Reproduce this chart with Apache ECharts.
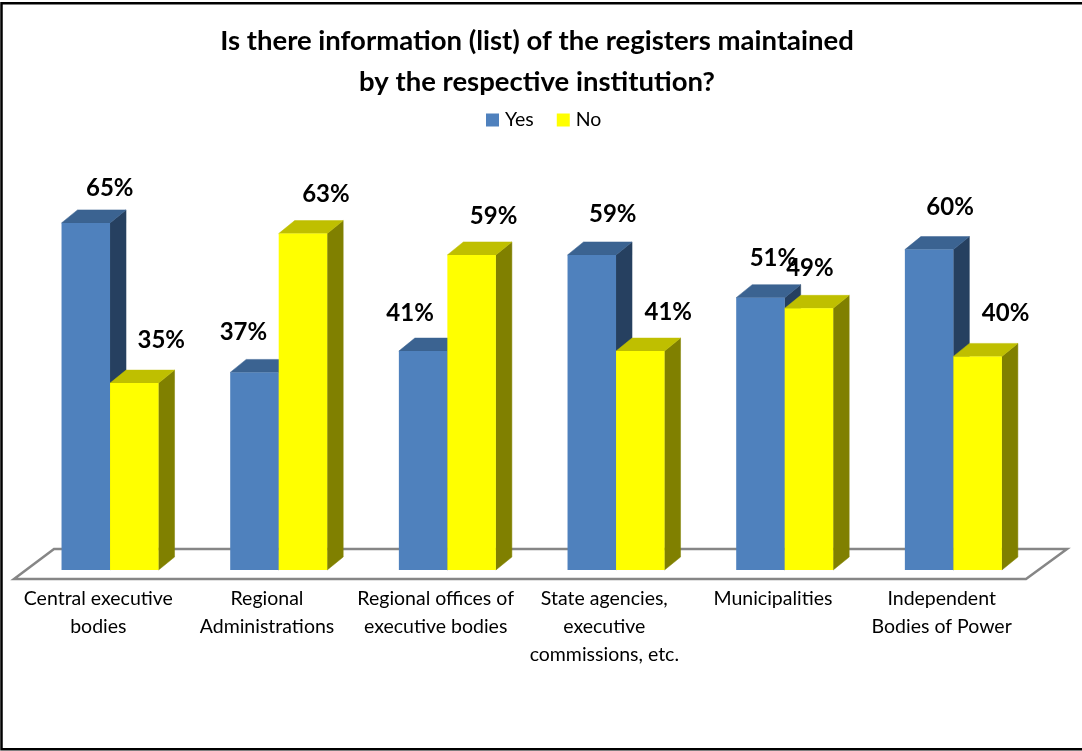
<!DOCTYPE html>
<html><head><meta charset="utf-8">
<style>html,body{margin:0;padding:0;background:#fff}#c{width:1082px;height:751px}</style>
<script src="https://cdn.jsdelivr.net/npm/echarts@6/dist/echarts.min.js"></script>
</head><body><div id="c"></div>
<script>
const categories = ['Central executive\nbodies','Regional\nAdministrations','Regional offices of\nexecutive bodies','State agencies,\nexecutive\ncommissions, etc.','Municipalities','Independent\nBodies of Power'];
const yesValues = [65,37,41,59,51,60];
const noValues = [35,63,59,41,49,40];
const titleLines = 'Is there information (list) of the registers maintained\nby the respective institution?';

// drawing layout (not data)
const FONT = 'Lato, "Noto Sans", sans-serif';
const BAR_W = 48.5, SHIFT = 11.7, DX = 16, DY = 13;
const yesLabelDX = [24,-11,-13,21,13,21], yesLabelDY = [35,40,38,41,39,42];
const noLabelDX = [27,23,22,28,1,28], noLabelDY = [43,39,39,39,40,43];

function barItem(cfg, labelDX, labelDY){
  return function(params, api){
    const i = api.value(0), v = api.value(1);
    const top = api.coord([i, v]), base = api.coord([i, 0]);
    const cx = top[0] + SHIFT;
    const x0 = cfg.side < 0 ? cx - BAR_W : cx, x1 = x0 + BAR_W;
    const y0 = top[1], y1 = base[1];
    const poly = (pts, fill) => ({type:'polygon', shape:{points:pts}, style:{fill, stroke:fill, lineWidth:0.5}});
    return {type:'group', children:[
      poly([[x1,y0],[x1+DX,y0-DY],[x1+DX,y1-DY],[x1,y1]], cfg.sideC),
      poly([[x0,y0],[x0+DX,y0-DY],[x1+DX,y0-DY],[x1,y0]], cfg.topC),
      {type:'rect', shape:{x:x0,y:y0,width:BAR_W,height:y1-y0}, style:{fill:cfg.front}},
      {type:'text', z2:50, style:{text:v+'%', x:(x0+x1)/2+labelDX[i], y:y0-labelDY[i], align:'center', verticalAlign:'middle',
        font:'bold 24px '+FONT, fill:'#000'}}
    ]};
  };
}
function floorItem(params, api){
  const a = api.coord([0,0]), b = api.coord([categories.length-1,0]);
  const band = api.size([1,0])[0];
  const l = a[0]-band/2, r = b[0]+band/2, y = a[1];
  return {type:'polygon', silent:true, shape:{points:[[l,y+9],[l+40,y-21],[r+41,y-21],[r,y+9]]},
    style:{fill:'#fff', stroke:'#868686', lineWidth:2.5}};
}
const chart = echarts.init(document.getElementById('c'), null, {renderer:'canvas'});
chart.setOption({
  animation:false,
  backgroundColor:'#fff',
  textStyle:{fontFamily:FONT},
  title:{text:titleLines, left:532, top:16, textAlign:'center',
    textStyle:{fontFamily:FONT, fontWeight:'bold', fontSize:27.5, lineHeight:41, color:'#000'}},
  legend:{data:['Yes','No'], left:486, top:110, itemWidth:13, itemHeight:13, itemGap:23, padding:0,
    textStyle:{fontFamily:FONT, fontSize:19.5, color:'#000', padding:[0,0,3,1]}, icon:'rect'},
  grid:{left:14, width:1012, top:36, height:534},
  xAxis:{type:'category', data:categories, axisLine:{show:false}, axisTick:{show:false},
    axisLabel:{interval:0, margin:15, fontFamily:FONT, fontSize:19.5, lineHeight:28, color:'#000', verticalAlign:'top'}},
  yAxis:{type:'value', min:0, max:100, show:false},
  graphic:[{type:'rect', z:100, silent:true, shape:{x:1.5,y:3.3,width:1085,height:746}, style:{fill:'none', stroke:'#000', lineWidth:2.5}}],
  series:[
    {name:'floor', type:'custom', z:1, renderItem:floorItem, data:[[0,0]], encode:{x:0,y:1}, silent:true},
    {name:'Yes', type:'custom', z:2, itemStyle:{color:'#4F81BD'}, encode:{x:0,y:1},
      renderItem:barItem({side:-1, front:'#4F81BD', topC:'#3B6391', sideC:'#264060'}, yesLabelDX, yesLabelDY),
      data:yesValues.map((v,i)=>[i,v])},
    {name:'No', type:'custom', z:3, itemStyle:{color:'#FFFF00'}, encode:{x:0,y:1},
      renderItem:barItem({side:1, front:'#FFFF00', topC:'#BFBF00', sideC:'#808000'}, noLabelDX, noLabelDY),
      data:noValues.map((v,i)=>[i,v])}
  ]
});
</script></body></html>
